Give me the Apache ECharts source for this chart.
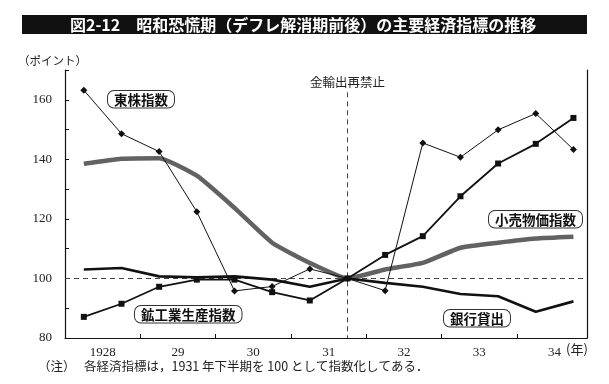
<!DOCTYPE html>
<html><head><meta charset="utf-8">
<script src="https://cdn.jsdelivr.net/npm/echarts@6/dist/echarts.min.js"></script>
<style>html,body{margin:0;padding:0;background:#fff}#c{width:609px;height:384px}</style>
</head><body><div id="c"></div>
<script>
// Half-year periods (上 = first half, 下 = second half)
const periods = ['1928上','1928下','1929上','1929下','1930上','1930下','1931上','1931下','1932上','1932下','1933上','1933下','1934上','1934下'];
const yearLabels = ['1928','29','30','31','32','33','34'];
const toukabu    = [163.2,148.6,142.6,122.4, 95.8, 97.3,103.2,100, 95.9,145.5,140.7,149.9,155.4,143.3]; // 東株指数
const koukougyou = [ 87.1, 91.5, 97.2, 99.6, 99.6, 95.4, 92.6,100,107.9,114.2,127.6,138.6,145.2,153.9]; // 鉱工業生産指数
const kouri      = [138.5,140.2,140.4,134.5,123.7,112.0,105.2,100,103.0,105.2,110.3,112.0,113.4,114.0]; // 小売物価指数
const ginkou     = [103.0,103.5,100.7,100.4,100.7, 99.6, 97.2,100, 98.5, 97.2, 94.8, 94.0, 88.8, 92.3]; // 銀行貸出
const baseValue = 100;
const eventPeriod = '1931下';   // 金輸出再禁止
const eventLabel = '金輸出再禁止';

function periodX(p){ const y = parseInt(p.slice(0,4),10); return y + (p.slice(4)==='上' ? 0.25 : 0.75); }
function pts(arr){ return periods.map((p,i)=>[periodX(p), arr[i]]); }

const XMIN = 1928, XMAX = 1934.93;
const JP = '"Noto Sans CJK JP", sans-serif';
const SERIF = '"Liberation Serif", "DejaVu Serif", serif';

const chart = echarts.init(document.getElementById('c'));
chart.setOption({
  animation: false,
  backgroundColor: '#fff',
  grid: {left: 65, right: 22, top: 70, bottom: 46, containLabel: false},
  xAxis: [
    {type: 'value', min: XMIN, max: XMAX, interval: 1,
     axisLine: {show: true, lineStyle: {color: '#111', width: 1.2}},
     axisTick: {show: true, inside: true, length: 4, lineStyle: {color: '#111'}},
     axisLabel: {show: false}, splitLine: {show: false}},
    {type: 'value', min: XMIN - 0.5, max: XMAX - 0.5, interval: 0.5, position: 'bottom',
     axisLine: {show: false}, axisTick: {show: false}, splitLine: {show: false},
     axisLabel: {show: true, margin: 8, fontFamily: SERIF, fontSize: 13, color: '#222',
       formatter: v => { const k = Math.round(v*2)/2; if (k % 1 !== 0) return ''; const i = k - 1928; return (i>=0 && i<yearLabels.length) ? yearLabels[i] : ''; }}}
  ],
  yAxis: [
    {type: 'value', min: 80, max: 170, interval: 10,
     axisLine: {show: true, lineStyle: {color: '#111', width: 1.2}},
     axisTick: {show: true, inside: true, length: 4, lineStyle: {color: '#111'}},
     axisLabel: {fontFamily: SERIF, fontSize: 13, color: '#222', margin: 13,
       formatter: v => (v % 20 === 0 && v <= 160) ? String(v) : ''},
     splitLine: {show: false}},
    {type: 'value', min: 80, max: 170, position: 'right',
     axisLine: {show: true, lineStyle: {color: '#111', width: 1.2}},
     axisTick: {show: false}, axisLabel: {show: false}, splitLine: {show: false}}
  ],
  series: [
    {name: '小売物価指数', type: 'line', data: pts(kouri), smooth: 0.15, symbol: 'none', z: 2,
     lineStyle: {color: '#626262', width: 4.5},
     markLine: {silent: true, symbol: 'none', z: 1,
       lineStyle: {color: '#444', width: 1, type: [5, 4]},
       data: [
         {yAxis: baseValue, label: {show: false}},
         [{coord: [periodX(eventPeriod), 162.5]}, {coord: [periodX(eventPeriod), 80]}]
       ],
       label: {show: true, position: 'start', distance: 4, formatter: eventLabel,
         fontFamily: JP, fontSize: 12.5, color: '#222'}}},
    {name: '銀行貸出', type: 'line', data: pts(ginkou), symbol: 'none', z: 3,
     lineStyle: {color: '#111', width: 2.6}},
    {name: '鉱工業生産指数', type: 'line', data: pts(koukougyou), symbol: 'rect', symbolSize: 6, z: 4,
     lineStyle: {color: '#111', width: 1.8}, itemStyle: {color: '#111'}},
    {name: '東株指数', type: 'line', data: pts(toukabu), symbol: 'diamond', symbolSize: 7, z: 5,
     lineStyle: {color: '#111', width: 1}, itemStyle: {color: '#111'}}
  ],
  graphic: [
    {type: 'rect', left: 22, top: 15, shape: {width: 565, height: 19}, style: {fill: '#111'}},
    {type: 'text', left: 70, top: 15, style: {text: '図2-12　昭和恐慌期（デフレ解消期前後）の主要経済指標の推移',
      font: 'bold 16px ' + JP, fill: '#fff', lineHeight: 19}},
    {type: 'text', left: 18, top: 55, style: {text: '（ポイント）', font: '11.5px ' + JP, fill: '#222'}},
    {type: 'text', left: 107, top: 90, style: {text: '東株指数', font: 'bold 13.5px ' + JP, fill: '#111',
      backgroundColor: '#fff', borderColor: '#333', borderWidth: 1, borderRadius: 6, padding: [2, 6, 1, 6]}},
    {type: 'text', left: 134, top: 305, style: {text: '鉱工業生産指数', font: 'bold 13.5px ' + JP, fill: '#111',
      backgroundColor: '#fff', borderColor: '#333', borderWidth: 1, borderRadius: 6, padding: [2, 6, 1, 6]}},
    {type: 'text', left: 488, top: 210, style: {text: '小売物価指数', font: 'bold 13.5px ' + JP, fill: '#111',
      backgroundColor: '#fff', borderColor: '#333', borderWidth: 1, borderRadius: 6, padding: [2, 6, 1, 6]}},
    {type: 'text', left: 443, top: 309, style: {text: '銀行貸出', font: 'bold 13.5px ' + JP, fill: '#111',
      backgroundColor: '#fff', borderColor: '#333', borderWidth: 1, borderRadius: 6, padding: [2, 6, 1, 6]}},
    {type: 'text', left: 566, top: 343, style: {text: '(年)', font: '13px ' + JP, fill: '#222'}},
    {type: 'text', left: 38, top: 360, style: {text: '（注）', font: '12.5px ' + JP, fill: '#222'}},
    {type: 'text', left: 84, top: 360, style: {text: '各経済指標は，1931 年下半期を 100 として指数化してある．', font: '12.5px ' + JP, fill: '#222'}}
  ]
});
</script></body></html>
